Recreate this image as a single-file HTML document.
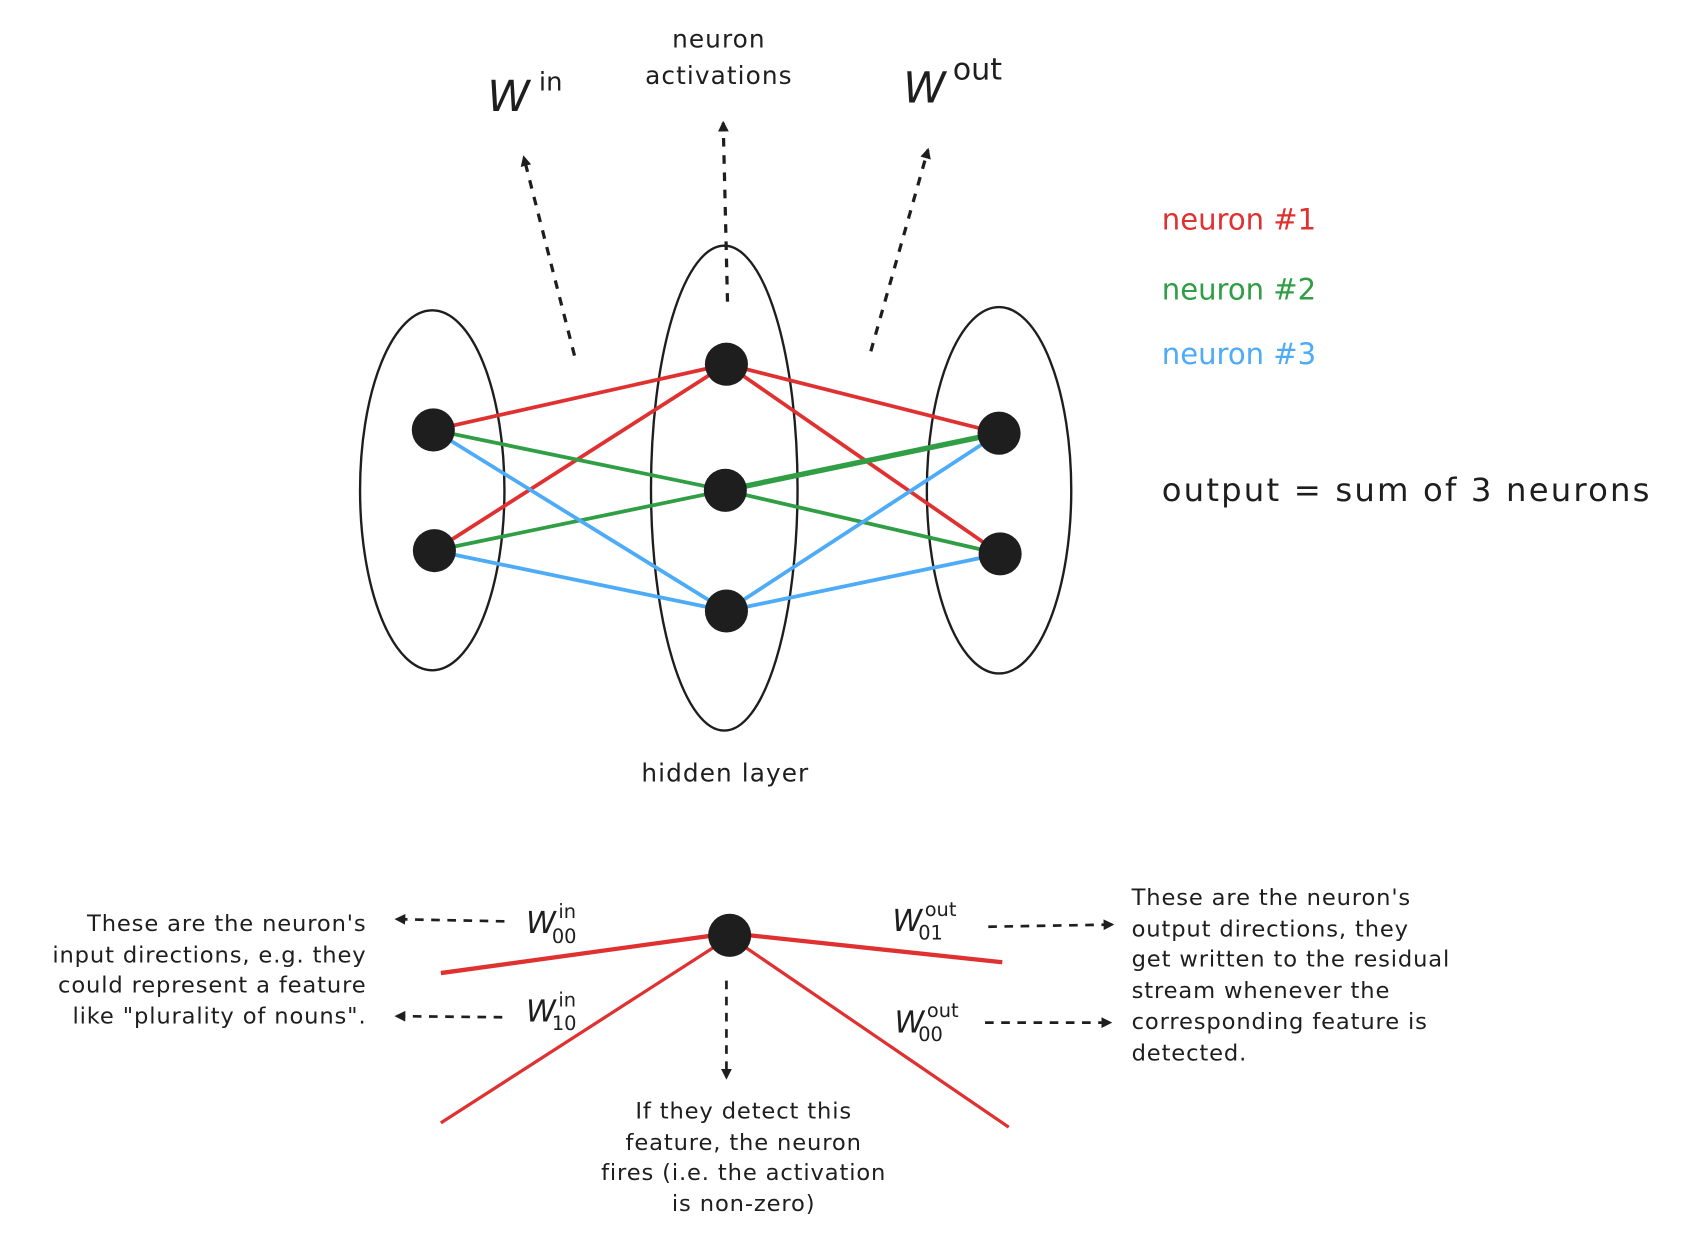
<!DOCTYPE html>
<html><head><style>
html,body{margin:0;padding:0;background:#fff;}
svg{display:block;}
text{font-family:"DejaVu Sans","Liberation Sans",sans-serif;fill:#1e1e1e;}
</style></head><body>
<svg width="1691" height="1250" viewBox="0 0 1569 1160" xmlns="http://www.w3.org/2000/svg">
<defs>
<marker id="ah" markerWidth="10" markerHeight="10" refX="8" refY="5" orient="auto" markerUnits="userSpaceOnUse"><path d="M0,0 L10,5 L0,10 z" fill="#1e1e1e"/></marker>
</defs>
<g fill="none" stroke="#1e1e1e" stroke-width="2.2">
<ellipse cx="401" cy="455" rx="67" ry="167"/>
<ellipse cx="672" cy="453" rx="68" ry="225"/>
<ellipse cx="927" cy="455" rx="67" ry="170"/>
</g>
<g stroke-width="3.5" fill="none">
<g stroke="#e03131">
<line x1="402" y1="399" x2="674" y2="338"/><line x1="403" y1="511" x2="674" y2="338"/>
<line x1="674" y1="338" x2="927" y2="402"/><line x1="674" y1="338" x2="928" y2="514"/>
</g>
<g stroke="#2f9e44">
<line x1="402" y1="399" x2="673" y2="455"/><line x1="403" y1="511" x2="673" y2="455"/>
<line x1="673" y1="455" x2="927" y2="402" stroke-width="5"/><line x1="673" y1="455" x2="928" y2="514"/>
</g>
<g stroke="#4dabf7">
<line x1="402" y1="399" x2="674" y2="567"/><line x1="403" y1="511" x2="674" y2="567"/>
<line x1="674" y1="567" x2="927" y2="402"/><line x1="674" y1="567" x2="928" y2="514"/>
</g>
</g>
<g fill="#1e1e1e">
<circle cx="402" cy="399" r="20"/><circle cx="403" cy="511" r="20"/>
<circle cx="674" cy="338" r="20"/><circle cx="673" cy="455" r="20"/><circle cx="674" cy="567" r="20"/>
<circle cx="927" cy="402" r="20"/><circle cx="928" cy="514" r="20"/>
</g>
<g stroke="#1e1e1e" stroke-width="3" stroke-dasharray="8 8" fill="none" marker-end="url(#ah)">
<line x1="533" y1="330" x2="486" y2="146"/>
<line x1="675" y1="280" x2="671" y2="114"/>
<line x1="808" y1="326" x2="861" y2="139"/>
</g>
<text x="452" y="103" font-size="40" font-style="italic">W</text><text x="500" y="84" font-size="24">in</text>
<text x="838" y="95" font-size="40" font-style="italic">W</text><text x="884" y="74" font-size="28">out</text>
<text x="667" y="44" font-size="23" text-anchor="middle" letter-spacing="1">neuron</text>
<text x="667" y="78" font-size="23" text-anchor="middle" letter-spacing="1">activations</text>
<text x="1078" y="213" font-size="27" style="fill:#e03131">neuron #1</text>
<text x="1078" y="278" font-size="27" style="fill:#2f9e44">neuron #2</text>
<text x="1078" y="338" font-size="27" style="fill:#4dabf7">neuron #3</text>
<text x="1078" y="465" font-size="30" letter-spacing="2">output = sum of 3 neurons</text>
<text x="673" y="725" font-size="23" text-anchor="middle" letter-spacing="1">hidden layer</text>

<g stroke="#e03131" fill="none">
<line x1="409" y1="903" x2="677" y2="866" stroke-width="4"/>
<line x1="677" y1="866" x2="930" y2="893" stroke-width="4"/>
<line x1="409" y1="1042" x2="664" y2="878" stroke-width="3"/>
<line x1="690" y1="878" x2="936" y2="1046" stroke-width="3"/>
</g>
<circle cx="677" cy="868" r="20" fill="#1e1e1e"/>
<g stroke="#1e1e1e" stroke-width="2.5" stroke-dasharray="8 7" fill="none" marker-end="url(#ah)">
<line x1="674" y1="910" x2="674" y2="1000"/>
<line x1="468" y1="855" x2="368" y2="853"/>
<line x1="466" y1="944" x2="368" y2="943"/>
<line x1="917" y1="860" x2="1032" y2="858"/>
<line x1="914" y1="949" x2="1030" y2="949"/>
</g>
<g font-size="28" font-style="italic">
<text x="488" y="866">W</text><text x="488" y="948">W</text>
<text x="828" y="864">W</text><text x="830" y="958">W</text>
</g>
<g font-size="18">
<text x="518" y="852">in</text><text x="512" y="875">00</text>
<text x="518" y="934">in</text><text x="512" y="956">10</text>
<text x="858" y="850">out</text><text x="852" y="872">01</text>
<text x="860" y="944">out</text><text x="852" y="966">00</text>
</g>
<g font-size="21" text-anchor="end" letter-spacing="0.8">
<text x="340" y="864">These are the neuron's</text>
<text x="340" y="893">input directions, e.g. they</text>
<text x="340" y="921">could represent a feature</text>
<text x="340" y="950">like "plurality of nouns".</text>
</g>
<g font-size="21" letter-spacing="0.8">
<text x="1050" y="840">These are the neuron's</text>
<text x="1050" y="869">output directions, they</text>
<text x="1050" y="897">get written to the residual</text>
<text x="1050" y="926">stream whenever the</text>
<text x="1050" y="955">corresponding feature is</text>
<text x="1050" y="984">detected.</text>
</g>
<g font-size="21" text-anchor="middle" letter-spacing="0.8">
<text x="690" y="1038">If they detect this</text>
<text x="690" y="1067">feature, the neuron</text>
<text x="690" y="1095">fires (i.e. the activation</text>
<text x="690" y="1124">is non-zero)</text>
</g>
</svg>
</body></html>
